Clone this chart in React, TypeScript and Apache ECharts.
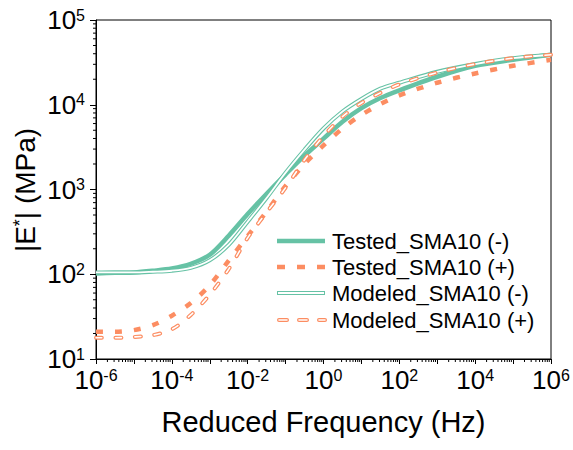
import React, { useEffect, useRef } from "react";
import * as echarts from "echarts";

// Reduced frequency, as powers of ten (Hz)
const freqExp = [-6, -5.5, -5, -4.5, -4, -3.5, -3, -2.5, -2, -1.5, -1, -0.5, 0, 0.5, 1, 1.5, 2, 3, 4, 5, 6];

// |E*| in MPa
const testedMinus = [102, 104, 105, 110, 117, 133, 170, 285, 513, 891, 1510, 2510, 3980, 6310, 9120, 12000, 14800, 21400, 28800, 33900, 38900];
const testedPlus = [20.9, 20.9, 21.9, 25.1, 32.4, 45.7, 74.1, 145, 282, 550, 1100, 2000, 3310, 5250, 7590, 10200, 12900, 18200, 23400, 28800, 33900];
const modeledMinus = [105, 105, 105, 107, 110, 119, 146, 222, 417, 794, 1580, 2950, 5250, 8320, 11700, 15500, 18200, 24500, 30200, 35500, 38900];
const modeledPlus = [17.8, 17.8, 18.2, 19.1, 22.4, 33.1, 57.5, 115, 269, 537, 1050, 2240, 4270, 7240, 10500, 13800, 17400, 24000, 30200, 35500, 38900];

const seriesNames = ["Tested_SMA10 (-)", "Tested_SMA10 (+)", "Modeled_SMA10 (-)", "Modeled_SMA10 (+)"];
const xTitle = "Reduced Frequency (Hz)";
const yTitle = "|E{s|*}| (MPa)";

// axis decades
const xDecades = [-6, -5, -4, -3, -2, -1, 0, 1, 2, 3, 4, 5];
const yDecades = [1, 2, 3, 4];
const minorMultipliers = [2, 3, 4, 5, 6, 7, 8, 9];

const TEAL = "#66c2a5";
const ORANGE = "#fc8d62";
const FONT = "'Liberation Sans', Arial, Helvetica, sans-serif";

const toPts = (vals: number[]) => vals.map((v, i) => [freqExp[i], Math.log10(v)]);

export default function App() {
  const ref = useRef<HTMLDivElement>(null);
  useEffect(() => {
    document.body.style.margin = "0";
    if (!ref.current) return;
    const chart = echarts.init(ref.current, undefined, { renderer: "svg" });

    const xMinor: number[][] = [];
    xDecades.forEach((d) => minorMultipliers.forEach((k) => xMinor.push([d + Math.log10(k), 1])));
    const yMinor: number[][] = [];
    yDecades.forEach((d) => minorMultipliers.forEach((k) => yMinor.push([-6, d + Math.log10(k)])));

    const rich = {
      b: { fontSize: 26, fontFamily: FONT, color: "#000", lineHeight: 26 },
      s: { fontSize: 16, fontFamily: FONT, color: "#000", verticalAlign: "top" as const, lineHeight: 13 },
    };

    const smooth = 0.3;
    const base = { type: "line" as const, symbol: "none", smooth, animation: false, z: 3 };

    const legendY = [241, 267, 293, 320];
    const lx1 = 277, lx2 = 325, tx = 332;
    const graphics: any[] = [
      { type: "line", shape: { x1: lx1, y1: legendY[0], x2: lx2, y2: legendY[0] }, style: { stroke: TEAL, lineWidth: 4.5 } },
      { type: "line", shape: { x1: lx1, y1: legendY[1], x2: lx2, y2: legendY[1] }, style: { stroke: ORANGE, lineWidth: 4.5, lineDash: [8, 12] } },
      { type: "line", shape: { x1: lx1, y1: legendY[2], x2: lx2, y2: legendY[2] }, style: { stroke: TEAL, lineWidth: 4 } },
      { type: "line", shape: { x1: lx1 + 1, y1: legendY[2], x2: lx2 - 1, y2: legendY[2] }, style: { stroke: "#fff", lineWidth: 1.8 } },
      { type: "line", shape: { x1: lx1 + 2, y1: legendY[3], x2: lx2, y2: legendY[3] }, style: { stroke: ORANGE, lineWidth: 4, lineDash: [8, 12], lineCap: "round" } },
      { type: "line", shape: { x1: lx1 + 2, y1: legendY[3], x2: lx2, y2: legendY[3] }, style: { stroke: "#fff", lineWidth: 1.6, lineDash: [8, 12], lineCap: "round" } },
      {
        type: "text",
        x: 25,
        y: 190,
        rotation: Math.PI / 2,
        style: {
          text: yTitle,
          fontSize: 28,
          fontFamily: FONT,
          fill: "#000",
          align: "center",
          verticalAlign: "middle",
          rich: { s: { fontSize: 18, fontFamily: FONT, fill: "#000", verticalAlign: "top", lineHeight: 14 } },
        },
      },
    ];
    seriesNames.forEach((n, i) => {
      graphics.push({
        type: "text",
        x: tx,
        y: legendY[i],
        style: { text: n, fontSize: 22, fontFamily: FONT, fill: "#000", verticalAlign: "middle", align: "left" },
      });
    });

    chart.setOption({
      animation: false,
      grid: { left: 96, right: 22, top: 20, bottom: 91, show: true, borderColor: "#000", borderWidth: 1, containLabel: false },
      xAxis: {
        type: "value",
        min: -6,
        max: 6,
        interval: 1,
        name: xTitle,
        nameLocation: "middle",
        nameGap: 48,
        nameTextStyle: { fontSize: 29, fontFamily: FONT, color: "#000" },
        axisLine: { show: true, onZero: false, lineStyle: { color: "#000", width: 1 } },
        axisTick: { show: true, inside: false, length: 5, lineStyle: { color: "#000", width: 1 } },
        splitLine: { show: false },
        axisLabel: {
          margin: 8,
          formatter: (v: number) => (Math.round(v) % 2 === 0 ? `{b|10}{s|${Math.round(v)}}` : ""),
          rich,
        },
      },
      yAxis: {
        type: "value",
        min: 1,
        max: 5,
        interval: 1,
        axisLine: { show: true, onZero: false, lineStyle: { color: "#000", width: 1 } },
        axisTick: { show: true, inside: false, length: 6, lineStyle: { color: "#000", width: 1 } },
        splitLine: { show: false },
        axisLabel: {
          margin: 11,
          formatter: (v: number) => `{b|10}{s|${Math.round(v)}}`,
          rich,
        },
      },
      series: [
        { ...base, name: seriesNames[0], data: toPts(testedMinus), lineStyle: { color: TEAL, width: 4.5 } },
        { ...base, name: seriesNames[1], data: toPts(testedPlus), lineStyle: { color: ORANGE, width: 4.5, type: [7, 12], cap: "butt" } },
        { ...base, name: seriesNames[2], data: toPts(modeledMinus), lineStyle: { color: TEAL, width: 4 } },
        { ...base, name: seriesNames[2] + "_inner", data: toPts(modeledMinus), lineStyle: { color: "#ffffff", width: 1.8 } },
        { ...base, name: seriesNames[3], data: toPts(modeledPlus), lineStyle: { color: ORANGE, width: 4, type: [6, 13.5], cap: "round" } },
        { ...base, name: seriesNames[3] + "_inner", data: toPts(modeledPlus), lineStyle: { color: "#ffffff", width: 1.6, type: [6, 13.5], cap: "round" } },
        {
          type: "custom",
          name: "xMinorTicks",
          data: xMinor,
          clip: false,
          silent: true,
          renderItem: (_p: any, api: any) => {
            const pt = api.coord([api.value(0), 1]);
            return { type: "line", shape: { x1: pt[0], y1: pt[1], x2: pt[0], y2: pt[1] + 3 }, style: { stroke: "#000", lineWidth: 1 } };
          },
        },
        {
          type: "custom",
          name: "yMinorTicks",
          data: yMinor,
          clip: false,
          silent: true,
          renderItem: (_p: any, api: any) => {
            const pt = api.coord([-6, api.value(1)]);
            return { type: "line", shape: { x1: pt[0] - 3, y1: pt[1], x2: pt[0], y2: pt[1] }, style: { stroke: "#000", lineWidth: 1 } };
          },
        },
      ],
      graphic: graphics,
    });
    return () => chart.dispose();
  }, []);
  return <div ref={ref} style={{ width: 573, height: 450 }} />;
}
